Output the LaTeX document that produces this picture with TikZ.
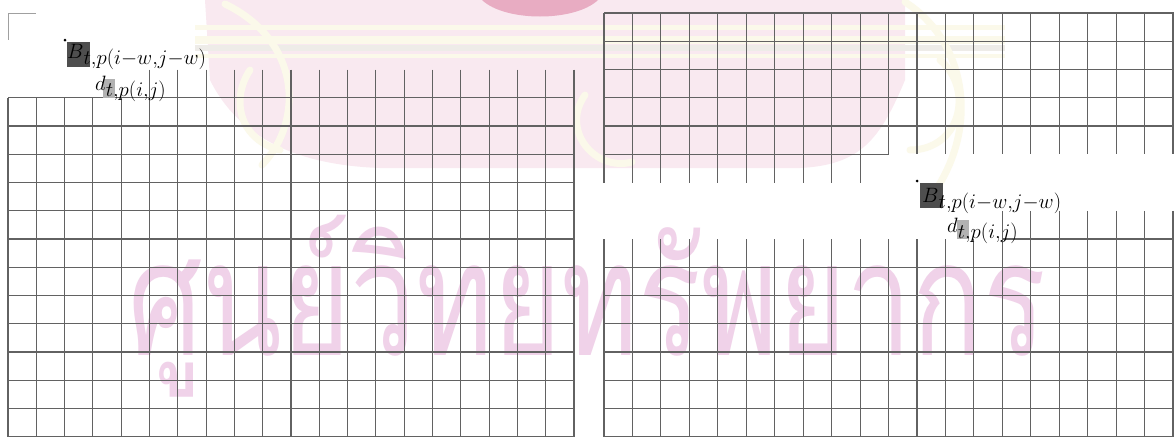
\documentclass[tikz,border=0pt]{standalone}
\usepackage{fontspec}
\usepackage{graphicx}
\newfontfamily\thaifont[Script=Thai]{Loma}
\definecolor{gridc}{RGB}{98,98,98}
\definecolor{cornerc}{RGB}{160,160,160}
\definecolor{wmpink}{RGB}{240,210,233}
\definecolor{embpink}{RGB}{249,233,240}
\definecolor{embcream}{RGB}{251,249,234}
\definecolor{embgray}{RGB}{238,236,232}
\definecolor{embred}{RGB}{232,172,194}
\definecolor{blockc}{RGB}{78,78,78}
\definecolor{shadec}{RGB}{178,178,178}
\newcommand{\mainletter}[1]{\mbox{\fontsize{20}{24}\selectfont$#1$}}
\begin{document}
\begin{tikzpicture}[x=1pt,y=-1pt,
  gridline/.style={draw=gridc,line width=1.1pt},
  cornerline/.style={draw=cornerc,line width=1pt},
  blockbox/.style={fill=blockc,inner sep=0pt,minimum width=23pt,minimum height=25pt},
  shadebox/.style={fill=shadec,inner sep=0pt,minimum width=12pt,minimum height=19pt},
  dotmark/.style={circle,fill=black,inner sep=0pt,minimum size=3pt},
  lbl/.style={inner sep=0pt,anchor=base west,font=\fontsize{28}{32}\selectfont},
  creamstroke/.style={draw=embcream,line width=7pt,line cap=round}]
\path[use as bounding box] (0,0) rectangle (1174,437);
\clip (0,0) rectangle (1174,437);
\fill[white] (0,0) rectangle (1174,437);
% ---- watermark emblem (faint) ----
\fill[embpink] (205,0) -- (905,0) -- (905,80) .. controls (880,140) and (860,165) .. (800,168)
  -- (380,168) .. controls (300,165) and (240,140) .. (210,80) -- cycle;
\fill[embcream] (195,25) rectangle (1005,30);
\fill[embcream] (195,36) rectangle (1005,44);
\fill[embgray] (195,45) rectangle (1005,51);
\fill[embcream] (195,54) rectangle (1005,58);
\fill[embred] (482,0) .. controls (505,22) and (575,22) .. (598,0) -- cycle;
\draw[creamstroke] (225,4) .. controls (300,40) and (305,120) .. (262,165);
\draw[creamstroke] (250,70) .. controls (230,100) and (240,140) .. (280,150);
\draw[creamstroke] (905,2) .. controls (965,40) and (985,130) .. (925,205);
\draw[creamstroke] (940,60) .. controls (975,90) and (960,150) .. (910,150);
\draw[creamstroke] (585,95) .. controls (560,130) and (595,172) .. (632,162);
% ---- watermark text ----
\node[anchor=base west,inner sep=0pt,text=wmpink] (wm) at (128,355)
  {\scalebox{0.73}[1]{\thaifont\fontsize{160}{160}\selectfont ศูนย์วิทยทรัพยากร}};
% ---- corner mark ----
\draw[cornerline] (8,13) -- (36,13);
\draw[cornerline] (8,13) -- (8,40);
% ---- left grid ----
\foreach \k in {3,...,15} \draw[gridline] (8,{13+28.25*\k}) -- (574,{13+28.25*\k});
\foreach \k in {0,...,4} \draw[gridline] ({8+28.3*\k},{13+28.25*3}) -- ({8+28.3*\k},437);
\foreach \k in {5,...,20} \draw[gridline] ({8+28.3*\k},{13+28.25*2}) -- ({8+28.3*\k},437);
% ---- upper right grid ----
\foreach \k in {0,...,4} \draw[gridline] (604,{13+28.25*\k}) -- (1174,{13+28.25*\k});
\draw[gridline] (604,{13+28.25*5}) -- ({604+28.45*10},{13+28.25*5});
\foreach \k in {0,...,9} \draw[gridline] ({604+28.45*\k},13) -- ({604+28.45*\k},{13+28.25*6});
\foreach \k in {10,...,20} \draw[gridline] ({604+28.45*\k},13) -- ({604+28.45*\k},{13+28.25*5});
% ---- lower right grid ----
\foreach \k in {9,...,15} \draw[gridline] (604,{13+28.25*\k}) -- (1174,{13+28.25*\k});
\draw[gridline] ({604+28.45*14},{13+28.25*8}) -- (1174,{13+28.25*8});
\foreach \k in {0,...,13} \draw[gridline] ({604+28.45*\k},{13+28.25*8}) -- ({604+28.45*\k},437);
\foreach \k in {14,...,20} \draw[gridline] ({604+28.45*\k},{13+28.25*7}) -- ({604+28.45*\k},437);
% ---- left labels ----
\node[blockbox] (blkL) at (78.5,54.5) {};
\node[dotmark] (dotL) at (65,40) {};
\node[shadebox] (shL) at (109,88) {};
\node[lbl] (bL) at (67,58) {$\mainletter{B}_{t,p(i-w,j-w)}$};
\node[lbl] (dL) at (95,90) {$\mainletter{d}_{t,p(i,j)}$};
% ---- right labels ----
\node[blockbox] (blkR) at (931,195) {};
\node[dotmark] (dotR) at (917,181) {};
\node[shadebox] (shR) at (963,229) {};
\node[lbl] (bR) at (922,202) {$\mainletter{B}_{t,p(i-w,j-w)}$};
\node[lbl] (dR) at (947,232) {$\mainletter{d}_{t,p(i,j)}$};
\end{tikzpicture}
\end{document}
